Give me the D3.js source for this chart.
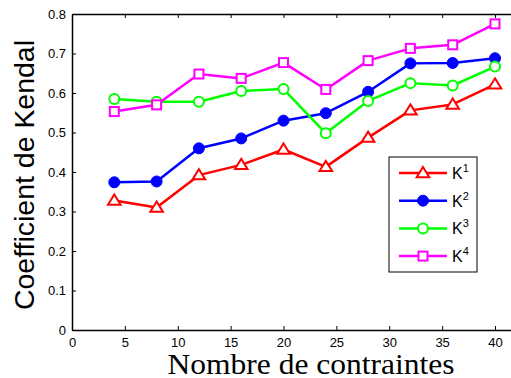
<!DOCTYPE html>
<html>
<head>
<meta charset="utf-8">
<script src="https://cdn.jsdelivr.net/npm/d3@7"></script>
<style>
  html, body { margin: 0; padding: 0; background: #fff; }
  svg { display: block; }
</style>
</head>
<body>
<svg id="chart" width="511" height="378"></svg>
<script>
// Number of constraints (x) and Kendall coefficient for each method
const constraints = [4, 8, 12, 16, 20, 24, 28, 32, 36, 40];
const k1 = [0.328, 0.310, 0.392, 0.418, 0.457, 0.413, 0.487, 0.556, 0.571, 0.622];
const k2 = [0.374, 0.376, 0.460, 0.485, 0.530, 0.549, 0.603, 0.675, 0.676, 0.688];
const k3 = [0.585, 0.578, 0.578, 0.605, 0.610, 0.498, 0.580, 0.625, 0.619, 0.667];
const k4 = [0.553, 0.570, 0.648, 0.637, 0.677, 0.609, 0.682, 0.713, 0.722, 0.775];
const seriesNames = ["1", "2", "3", "4"];
const xTicks = [0, 5, 10, 15, 20, 25, 30, 35, 40];
const yTicks = [0, 0.1, 0.2, 0.3, 0.4, 0.5, 0.6, 0.7, 0.8];

const series = [
  { sup: seriesNames[0], values: k1, color: "#ff0000", marker: "triangle" },
  { sup: seriesNames[1], values: k2, color: "#0000ff", marker: "disc" },
  { sup: seriesNames[2], values: k3, color: "#00ff00", marker: "circle" },
  { sup: seriesNames[3], values: k4, color: "#ff00ff", marker: "square" }
];

const svg = d3.select("#chart");
const L = 72, T = 14, B = 330;

const x = d3.scaleLinear().domain([0, 42]).range([L, L + 42 * (423 / 40)]);
const y = d3.scaleLinear().domain([0, 0.8]).range([B, T]);

const axisFont = "Liberation Sans, Arial, Helvetica, sans-serif";

// Axes: inward ticks on left, bottom and top
const gx = svg.append("g").attr("transform", `translate(0,${B})`)
  .call(d3.axisBottom(x).tickValues(xTicks).tickSizeInner(-4).tickSizeOuter(0).tickPadding(8).tickFormat(d3.format("d")));
const gxTop = svg.append("g").attr("transform", `translate(0,${T})`)
  .call(d3.axisTop(x).tickValues(xTicks).tickSizeInner(-4).tickSizeOuter(0).tickFormat(""));
const gy = svg.append("g").attr("transform", `translate(${L},0)`)
  .call(d3.axisLeft(y).tickValues(yTicks).tickSizeInner(-4).tickSizeOuter(0).tickPadding(6).tickFormat(d => d === 0 ? "0" : d3.format(".1f")(d)));

[gx, gxTop, gy].forEach(g => {
  g.select(".domain").attr("stroke", "#000").attr("stroke-width", 1.5);
  g.selectAll(".tick line").attr("stroke", "#000").attr("stroke-width", 1);
  g.selectAll(".tick text").attr("fill", "#000").style("font-family", axisFont).style("font-size", "13px");
});

// Lines and markers
const line = d3.line().x((d, i) => x(constraints[i])).y(d => y(d));

function drawMarker(g, type, color, cx, cy) {
  if (type === "triangle") {
    const s = 6;
    g.append("path")
      .attr("d", `M${cx},${cy - s}L${cx + s * 1.05},${cy + s * 0.7}L${cx - s * 1.05},${cy + s * 0.7}Z`)
      .attr("fill", "#fff").attr("stroke", color).attr("stroke-width", 2);
  } else if (type === "disc") {
    g.append("circle").attr("cx", cx).attr("cy", cy).attr("r", 5.5).attr("fill", color).attr("stroke", color).attr("stroke-width", 1);
  } else if (type === "circle") {
    g.append("circle").attr("cx", cx).attr("cy", cy).attr("r", 5).attr("fill", "#fff").attr("stroke", color).attr("stroke-width", 2);
  } else {
    g.append("rect").attr("x", cx - 4.5).attr("y", cy - 4.5).attr("width", 9).attr("height", 9)
      .attr("fill", "#fff").attr("stroke", color).attr("stroke-width", 2);
  }
}

series.forEach(s => {
  const g = svg.append("g");
  g.append("path").datum(s.values).attr("d", line)
    .attr("fill", "none").attr("stroke", s.color).attr("stroke-width", 2.5).attr("stroke-linejoin", "round");
  s.values.forEach((v, i) => drawMarker(g, s.marker, s.color, x(constraints[i]), y(v)));
});

// Legend
const lg = svg.append("g");
lg.append("rect").attr("x", 389).attr("y", 157).attr("width", 88).attr("height", 115)
  .attr("fill", "#fff").attr("stroke", "#000").attr("stroke-width", 1);
series.forEach((s, i) => {
  const ly = 173 + i * 27.7;
  lg.append("line").attr("x1", 399).attr("x2", 447).attr("y1", ly).attr("y2", ly)
    .attr("stroke", s.color).attr("stroke-width", 2.5);
  drawMarker(lg, s.marker, s.color, 423, ly);
  const t = lg.append("text").attr("x", 452).attr("y", ly + 6)
    .style("font-family", axisFont).style("font-size", "16px").attr("fill", "#000");
  t.append("tspan").text("K");
  t.append("tspan").attr("dy", -7).style("font-size", "11px").text(s.sup);
});

// Axis titles
svg.append("text").attr("transform", `translate(34,175) rotate(-90)`)
  .attr("text-anchor", "middle")
  .attr("textLength", 270).attr("lengthAdjust", "spacingAndGlyphs")
  .style("font-family", axisFont).style("font-size", "27.5px").attr("fill", "#000")
  .text("Coefficient de Kendal");
svg.append("text").attr("x", 311).attr("y", 374).attr("text-anchor", "middle")
  .attr("textLength", 287).attr("lengthAdjust", "spacingAndGlyphs")
  .style("font-family", "Liberation Serif, Times New Roman, serif").style("font-size", "29px").attr("fill", "#000")
  .text("Nombre de contraintes");
</script>
</body>
</html>
